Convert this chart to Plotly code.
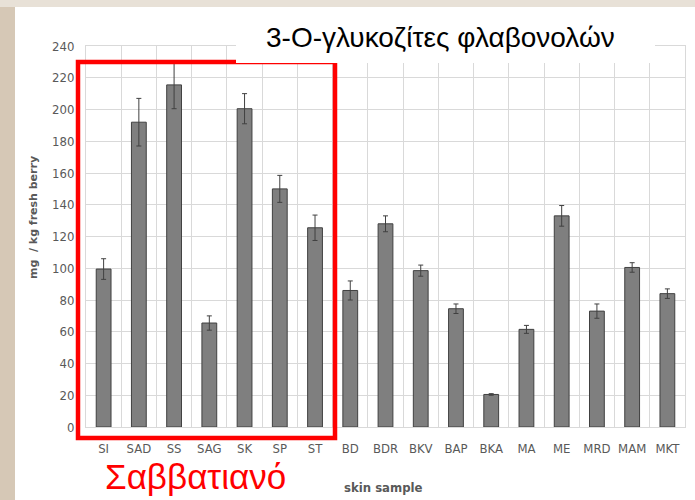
import plotly.graph_objects as go

categories = ["SI", "SAD", "SS", "SAG", "SK", "SP", "ST", "BD", "BDR", "BKV",
              "BAP", "BKA", "MA", "ME", "MRD", "MAM", "MKT"]
values = [99.5, 192, 215.5, 65.5, 200.5, 150, 125.5, 86, 128, 98.5,
          74.5, 20.5, 61.5, 133, 73, 100.5, 84]
errors = [6.5, 15, 15, 4.5, 9.5, 8.5, 8, 6, 5, 3.5,
          3, 0.5, 2.5, 6.5, 4.5, 3, 3]
y_ticks = [0, 20, 40, 60, 80, 100, 120, 140, 160, 180, 200, 220, 240]

W, H = 695, 500
L, R, T, B = 86, 685, 46, 427  # plot area in pixels


def px(x):
    return (x - L) / (R - L)


def py(y):
    return (B - y) / (B - T)


narrow = "Liberation Sans Narrow, DejaVu Sans Condensed, Arial Narrow, sans-serif"

fig = go.Figure()
fig.add_trace(go.Bar(
    x=categories, y=values,
    marker=dict(color="#7f7f7f", line=dict(color="#404040", width=1)),
    error_y=dict(type="data", array=errors, visible=True,
                 color="#404040", thickness=1, width=2.5),
))

shapes = [
    # slide background bands
    dict(type="rect", xref="paper", yref="paper", x0=px(0), x1=px(W), y0=py(0), y1=py(7),
         fillcolor="#e8e1d7", line=dict(width=0), layer="below"),
    dict(type="rect", xref="paper", yref="paper", x0=px(0), x1=px(15), y0=py(7), y1=py(H),
         fillcolor="#d6c8b6", line=dict(width=0), layer="below"),
    # red highlight box
    dict(type="rect", xref="paper", yref="paper", x0=px(78), x1=px(335), y0=py(438), y1=py(62),
         line=dict(color="#ff0000", width=4.5), layer="above"),
    # white title box covering the gridlines
    dict(type="rect", xref="paper", yref="paper", x0=px(236), x1=px(655), y0=py(63), y1=py(12),
         fillcolor="#ffffff", line=dict(width=0), layer="above"),
]

annotations = [
    dict(text="3-Ο-γλυκοζίτες φλαβονολών", xref="paper", yref="paper",
         x=px(440), y=py(37), xanchor="center", yanchor="middle", showarrow=False,
         font=dict(family="Liberation Sans, Arial, sans-serif", size=28, color="#000000")),
    dict(text="Σαββατιανό", xref="paper", yref="paper",
         x=px(195), y=py(477), xanchor="center", yanchor="middle", showarrow=False,
         font=dict(family="Liberation Sans, Arial, sans-serif", size=35, color="#ff0000")),
    dict(text="<b>mg  / kg fresh berry</b>", xref="paper", yref="paper",
         x=px(33), y=py(218), xanchor="center", yanchor="middle", showarrow=False,
         textangle=-90,
         font=dict(family="DejaVu Sans, sans-serif", size=11, color="#595959")),
    dict(text="<b>skin sample</b>", xref="paper", yref="paper",
         x=px(383), y=py(487), xanchor="center", yanchor="middle", showarrow=False,
         font=dict(family=narrow, size=13, color="#595959")),
]

fig.update_layout(
    width=W, height=H,
    margin=dict(l=L, r=W - R, t=T, b=H - B, pad=0),
    paper_bgcolor="#ffffff", plot_bgcolor="#ffffff",
    showlegend=False, bargap=0.58,
    shapes=shapes, annotations=annotations,
    xaxis=dict(type="category", categoryorder="array", categoryarray=categories,
               showgrid=True, gridcolor="#d9d9d9", gridwidth=1, tickson="boundaries",
               ticks="", ticklabelstandoff=9, tickangle=0,
               showline=True, linecolor="#d9d9d9", mirror=True,
               tickfont=dict(family=narrow, size=13, color="#595959")),
    yaxis=dict(range=[0, 240], tickvals=y_ticks, showgrid=True, gridcolor="#d9d9d9",
               gridwidth=1, zeroline=False,
               ticks="outside", ticklen=8, tickcolor="rgba(0,0,0,0)",
               showline=True, linecolor="#d9d9d9", mirror=True,
               tickfont=dict(family=narrow, size=13, color="#595959")),
)

fig.write_html("out.html", config={"displayModeBar": False},
               post_script="document.body.style.margin='0';")
